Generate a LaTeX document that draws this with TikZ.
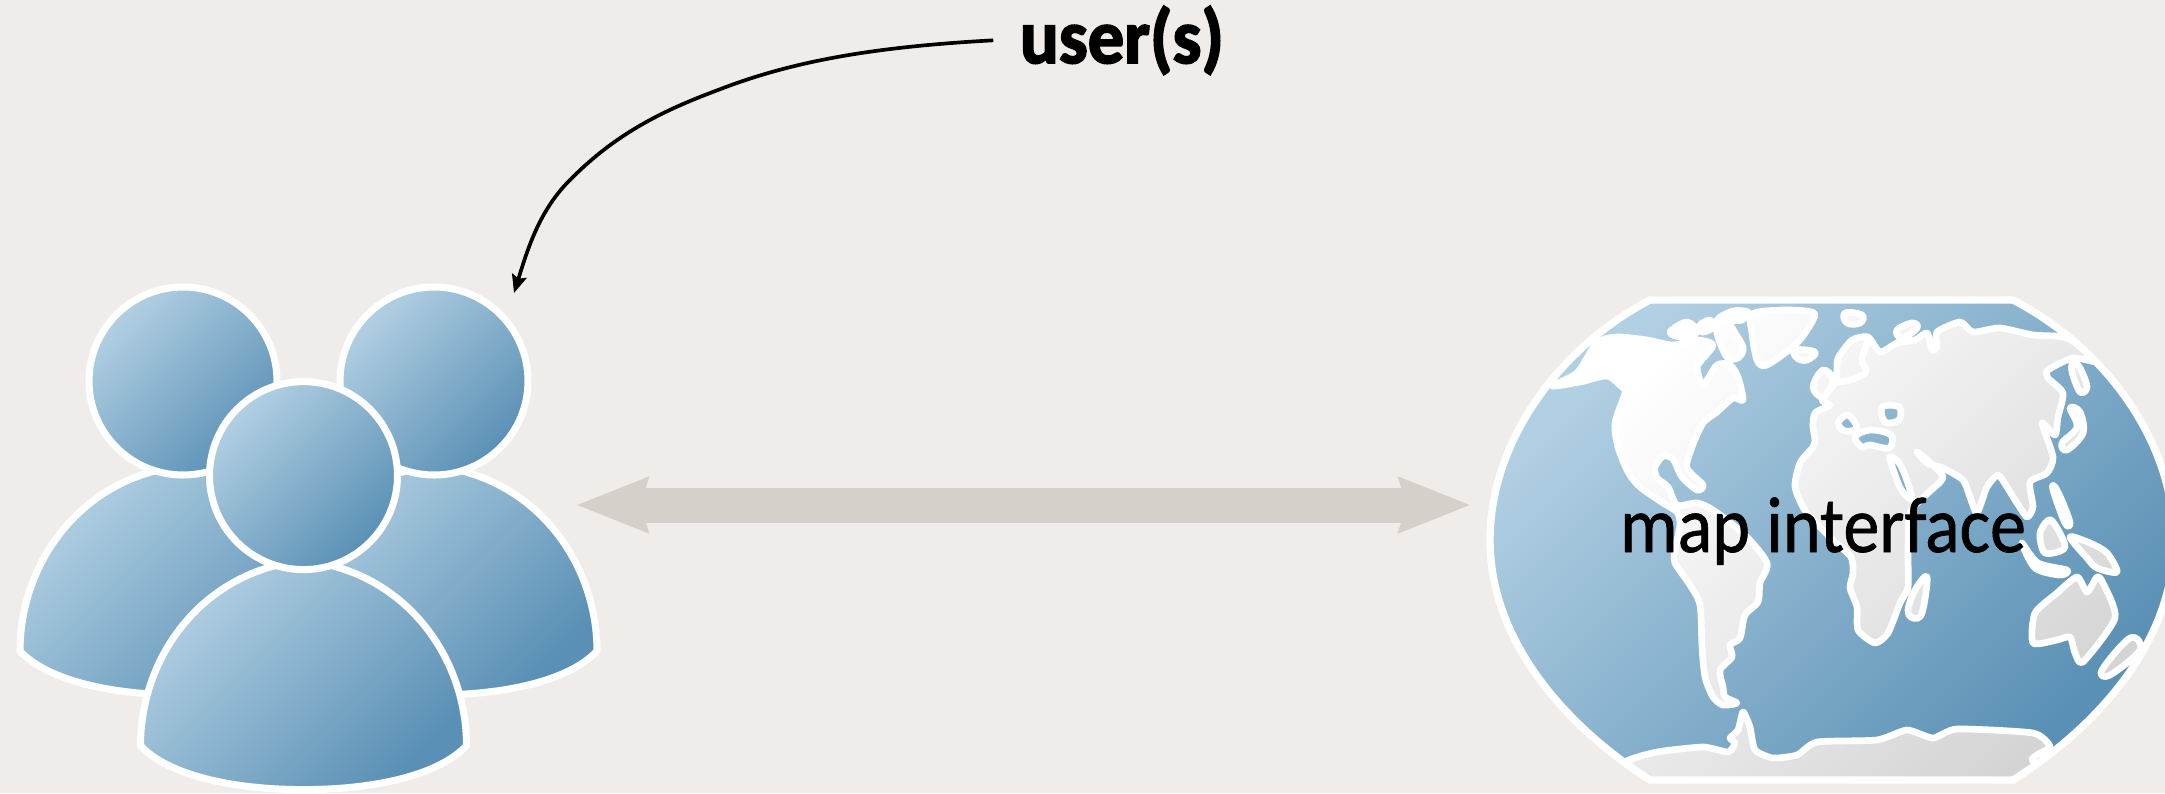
\documentclass[tikz,border=0pt]{standalone}
\usepackage{fontspec}
\setmainfont{Carlito}
\newfontfamily\maplabelfont[FakeBold=0.9]{Carlito}
\newfontfamily\userlabelfont[BoldFeatures={FakeBold=2.5}]{Carlito}
\usetikzlibrary{arrows.meta}
\definecolor{paper}{HTML}{F0ECE9}
\definecolor{bandgrey}{HTML}{D5D0CA}
\definecolor{bluelite}{HTML}{B2D0E3}
\definecolor{bluedark}{HTML}{5A90B5}
\definecolor{landlite}{HTML}{FFFFFF}
\definecolor{landdark}{HTML}{D4D4D4}
\tikzset{
  person/.style={draw=white,line width=2pt,line join=round,top color=bluelite,bottom color=bluedark,shading angle=45},
  ocean/.style={top color=bluelite,bottom color=bluedark,shading angle=45},
  land/.style={draw=white,line width=1.9pt,line join=round,even odd rule,top color=landlite,bottom color=landdark,shading angle=45},
  coast/.style={draw=white,line width=1.9pt,line cap=round,line join=round},
  rim/.style={draw=white,line width=2.1pt,line join=miter},
  biarrow/.style={draw=bandgrey,line width=0.35cm,{Stealth[length=0.71cm,width=0.53cm,inset=0.07cm]}-{Stealth[length=0.71cm,width=0.53cm,inset=0.07cm]}},
  pointer/.style={draw=black,line width=1.05pt,-{Stealth[length=0.18cm,width=0.15cm,inset=0.03cm]}},
  maptext/.style={font=\fontsize{20.5pt}{24pt}\maplabelfont,anchor=base,inner sep=0pt},
  usertext/.style={font=\fontsize{20.6pt}{24pt}\userlabelfont\bfseries,anchor=base,inner sep=0pt,inner xsep=0.26cm},
}
\begin{document}
\begin{tikzpicture}[x=0.01cm,y=-0.01cm]
  \fill[paper] (0,0) rectangle (2165,793);
  \clip (0,0) rectangle (2165,793);

  % the three users, back ones first
  \foreach \hx/\hy in {183/381,434/381,303.5/475.6} {
    \begin{scope}[shift={(\hx,\hy)}]
      \draw[person] (0,85) .. controls (-100,95) and (-163,180) .. (-163,270)
        .. controls (-135,300) and (-70,314) .. (0,314)
        .. controls (70,314) and (135,300) .. (163,270)
        .. controls (163,180) and (100,95) .. (0,85) -- cycle;
      \draw[person] (0,0) circle [radius=94];
    \end{scope}
  }

  % the map
  \begin{scope}
    \clip (1650,300) -- (2013,300) .. controls (2109,350) and (2174,445) .. (2174,540)
      .. controls (2174,640) and (2100,725) .. (2013,780) -- (1650,780)
      .. controls (1564,725) and (1490,640) .. (1490,540)
      .. controls (1490,445) and (1555,350) .. (1650,300) -- cycle;
    \fill[ocean] (1490,300) rectangle (2174,780);
    \path[land]
      % americas
      plot[smooth cycle,tension=0.45] coordinates {(1552,386) (1577,373) (1597,343) (1617,337) (1647,340) (1673,345) (1697,340) (1713,345) (1700,362) (1697,368) (1703,385) (1717,365) (1730,365) (1738,377) (1743,400) (1733,398) (1717,412) (1703,423) (1692,447) (1687,468) (1703,485) (1697,490) (1682,477) (1673,459) (1663,456) (1655,467) (1657,478) (1668,487) (1677,505) (1697,503) (1713,510) (1745,535) (1767,563) (1760,583) (1758,602) (1745,615) (1740,638) (1730,645) (1732,657) (1720,670) (1723,687) (1725,697) (1737,703) (1723,705) (1713,697) (1705,677) (1702,647) (1700,605) (1690,585) (1675,563) (1675,550) (1680,525) (1677,512) (1663,503) (1640,487) (1628,472) (1618,447) (1615,423) (1625,393) (1622,387) (1607,376) (1580,382)}
      % arctic islands, greenland, iceland
      plot[smooth cycle,tension=0.6] coordinates {(1670,332) (1687,322) (1697,332) (1682,337)}
      plot[smooth cycle,tension=0.6] coordinates {(1700,325) (1710,320) (1712,328) (1702,332)}
      plot[smooth cycle,tension=0.5] coordinates {(1717,320) (1733,311) (1748,312) (1742,320) (1730,323) (1743,347) (1738,358) (1727,357) (1718,337)}
      plot[smooth cycle,tension=0.5] coordinates {(1752,314) (1783,310) (1812,312) (1813,320) (1797,343) (1767,365) (1757,360) (1752,333)}
      plot[smooth cycle,tension=0.7] coordinates {(1795,350) (1815,352) (1807,360) (1797,358)}
      plot[smooth cycle,tension=0.7] coordinates {(1845,313) (1862,315) (1860,323) (1847,323)}
      plot[smooth cycle,tension=0.7] coordinates {(1897,330) (1912,323) (1917,328) (1902,338)}
      plot[smooth cycle,tension=0.6] coordinates {(1813,387) (1823,370) (1833,380) (1823,397)}
      % eurasia with africa
      plot[smooth cycle,tension=0.4] coordinates {(1837,370) (1838,358) (1852,340) (1868,337) (1880,352) (1897,343) (1915,340) (1927,333) (1932,350) (1937,347) (1937,332) (1960,322) (1973,332) (2000,328) (2033,335) (2067,338) (2100,362) (2073,358) (2048,370) (2048,378) (2063,393) (2058,417) (2055,435) (2042,423) (2053,457) (2047,473) (2030,482) (2033,507) (2027,517) (2017,503) (2007,487) (1998,475) (1987,487) (1977,513) (1970,497) (1963,480) (1943,468) (1927,463) (1917,452) (1925,458) (1943,477) (1928,493) (1910,513) (1908,553) (1908,587) (1900,603) (1888,633) (1875,643) (1858,630) (1857,607) (1850,588) (1853,573) (1851,557) (1833,540) (1806,512) (1795,487) (1800,463) (1813,447) (1815,440) (1813,427) (1815,413) (1830,405) (1822,400) (1835,383)}
      % inland seas
      plot[smooth cycle,tension=0.6] coordinates {(1838,423) (1848,415) (1857,428) (1845,431)}
      plot[smooth cycle,tension=0.6] coordinates {(1855,437) (1870,430) (1891,435) (1889,448) (1870,445) (1862,447)}
      plot[smooth cycle,tension=0.6] coordinates {(1882,407) (1899,407) (1899,420) (1885,422)}
      plot[smooth cycle,tension=0.6] coordinates {(1890,457) (1901,466) (1912,498) (1902,491) (1894,472)}
      % islands of the east
      plot[smooth cycle,tension=0.6] coordinates {(2073,363) (2080,368) (2087,387) (2080,392) (2072,372)}
      plot[smooth cycle,tension=0.6] coordinates {(2070,408) (2080,412) (2083,433) (2067,450) (2062,443) (2077,427)}
      plot[smooth cycle,tension=0.6] coordinates {(2055,487) (2063,503) (2070,523) (2065,523) (2053,490)}
      plot[smooth cycle,tension=0.5] coordinates {(2040,533) (2051,520) (2065,547) (2045,553)}
      plot[smooth cycle,tension=0.5] coordinates {(2022,543) (2038,563) (2067,570) (2060,575) (2035,568)}
      plot[smooth cycle,tension=0.5] coordinates {(2070,537) (2090,543) (2107,553) (2117,572) (2097,568) (2087,558)}
      plot[smooth cycle,tension=0.4] coordinates {(2033,643) (2035,613) (2057,593) (2077,577) (2087,592) (2097,577) (2103,583) (2115,618) (2083,662) (2075,653) (2070,637) (2057,640)}
      plot[smooth cycle,tension=0.6] coordinates {(2130,638) (2140,650) (2110,675) (2102,670)}
      plot[smooth cycle,tension=0.6] coordinates {(1927,577) (1922,613) (1913,618) (1908,610) (1915,590)}
      % antarctica
      plot[smooth cycle,tension=0.35] coordinates {(1625,762) (1657,752) (1703,747) (1728,752) (1735,743) (1730,738) (1738,730) (1743,712) (1750,727) (1755,750) (1773,758) (1797,755) (1817,742) (1877,740) (1907,730) (1933,738) (1957,729) (2033,733) (2050,747) (2032,760) (2060,790) (1600,790)};
    \draw[coast] plot[smooth,tension=0.6] coordinates {(1868,340) (1862,360) (1866,372) (1850,380) (1838,382)};
  \end{scope}
  \draw[rim] (1650,300) -- (2013,300) .. controls (2109,350) and (2174,445) .. (2174,540)
    .. controls (2174,640) and (2100,725) .. (2013,780) -- (1650,780)
    .. controls (1564,725) and (1490,640) .. (1490,540)
    .. controls (1490,445) and (1555,350) .. (1650,300) -- cycle;

  \node[maptext] (maplabel) at (1823,552) {\scalebox{1}[1.1]{map interface}};
  \node[usertext] (userlabel) at (1122,63) {\scalebox{1}[1.06]{user(s)}};

  \coordinate (usersport) at (576,505);
  \coordinate (mapport) at (1471,505);
  \coordinate (userstip) at (514,293);
  \draw[biarrow] (usersport) -- (mapport);
  \draw[pointer] (userlabel.west) .. controls (870,47) and (790,62) .. (718,90)
    .. controls (670,108) and (620,130) .. (573,177)
    .. controls (540,208) and (528,248) .. (userstip);
\end{tikzpicture}
\end{document}
